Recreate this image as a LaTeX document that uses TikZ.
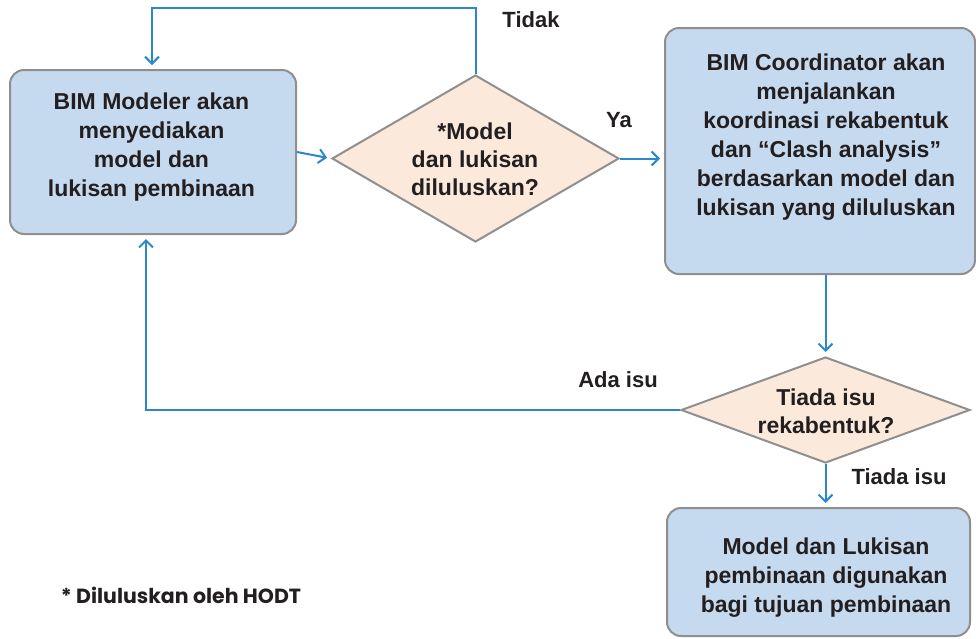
\documentclass[tikz,border=0pt]{standalone}
\usepackage{fontspec}
\setmainfont{Liberation Sans}
\newfontfamily\notefont{Poppins}
\usetikzlibrary{shapes.geometric,arrows.meta,calc}
\definecolor{boxfill}{HTML}{C6DAEF}
\definecolor{boxline}{HTML}{8F8F8F}
\definecolor{dfill}{HTML}{FBE9DB}
\definecolor{arrblue}{HTML}{2B88C9}
\definecolor{txt}{HTML}{231F20}
\begin{document}
\begin{tikzpicture}[x=1pt,y=-1pt,
  procbox/.style={draw=boxline,line width=2pt,fill=boxfill,rounded corners=14pt,inner sep=0pt},
  decis/.style={draw=boxline,line width=2pt,fill=dfill,shape=diamond,inner sep=0pt},
  btext/.style={align=center,text=txt,inner sep=0pt,font=\fontsize{23}{29}\selectfont\bfseries},
  dtext/.style={align=center,text=txt,inner sep=0pt,font=\fontsize{23}{28}\selectfont\bfseries},
  lbl/.style={text=txt,font=\fontsize{22}{26}\selectfont\bfseries,inner sep=0pt},
  arr/.style={draw=arrblue,line width=2pt,-{Straight Barb[length=7pt,width=14pt,line width=2pt]},shorten >=4pt}]
\useasboundingbox (0,0) rectangle (976,638);
% boxes
\node[procbox,minimum width=286,minimum height=164] (b1) at (153,152) {};
\node[btext] (b1t) at (151.5,147) {BIM Modeler akan\\menyediakan\\model dan\\lukisan pembinaan};
\node[procbox,minimum width=310,minimum height=246] (b2) at (820,151) {};
\node[btext] (b2t) at (826,137) {BIM Coordinator akan\\menjalankan\\koordinasi rekabentuk\\dan ``Clash analysis''\\berdasarkan model dan\\lukisan yang diluluskan};
\node[procbox,minimum width=303,minimum height=128] (b3) at (818.5,572) {};
\node[btext] (b3t) at (826,578) {Model dan Lukisan\\pembinaan digunakan\\bagi tujuan pembinaan};
% decisions
\node[decis,minimum width=287,minimum height=167] (d1) at (475.5,158.5) {};
\node[dtext] (d1t) at (475,159) {*Model\\dan lukisan\\diluluskan?};
\node[decis,minimum width=289,minimum height=106] (d2) at (825.5,410) {};
\node[dtext] (d2t) at (826,411) {Tiada isu\\rekabentuk?};
% labels
\node[lbl] (lt) at (531,20) {Tidak};
\node[lbl] (ly) at (619,120) {Ya};
\node[lbl] (la) at (618,380) {Ada isu};
\node[lbl] (lti) at (899,477) {Tiada isu};
\node[text=txt,inner sep=0pt,font=\notefont\fontsize{20.5}{24}\selectfont\bfseries] (note) at (181,595) {* Diluluskan oleh HODT};
% connectors
\coordinate (t1) at (152,8);
\coordinate (a1) at (146,410);
\draw[arr] (b1.east) -- (d1.west);
\draw[arr] (d1.north) |- (t1) -- (t1 |- b1.north);
\draw[arr] (d1.east) -- (d1.east -| b2.west);
\draw[arr] (b2.south -| d2.north) -- (d2.north);
\draw[arr] (d2.west) -- (a1) -- (a1 |- b1.south);
\draw[arr] (d2.south) -- (d2.south |- b3.north);
\end{tikzpicture}
\end{document}
